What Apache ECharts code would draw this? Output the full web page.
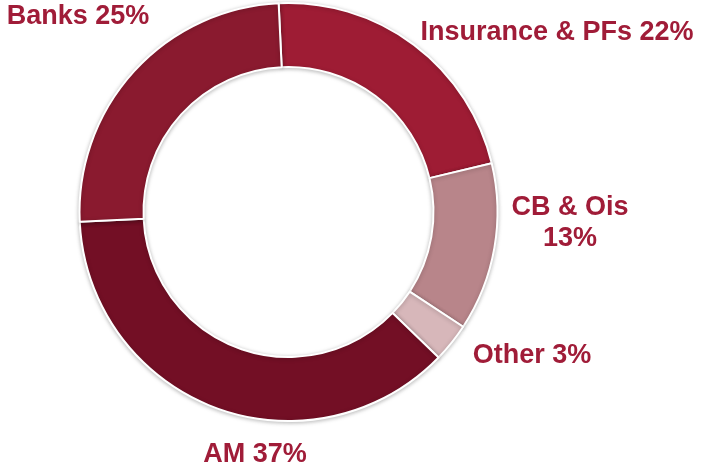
<!DOCTYPE html>
<html>
<head>
    <meta charset="UTF-8">
    <title>Investor breakdown</title>
    <script type="text/javascript" src="https://cdn.jsdelivr.net/npm/echarts@6/dist/echarts.min.js"></script>
</head>
<style type="text/css">
html, body { margin: 0; padding: 0; background: #fff; }
#chart { width: 703px; height: 467px; }
</style>
<body>
    <div id="chart"></div>

<script type="text/javascript">
    // 数据
    var names = ['Insurance & PFs', 'CB & Ois', 'Other', 'AM', 'Banks'];
    var values = [22, 13, 3, 37, 25];
    var colors = ['#9e1c34', '#b8858a', '#d7b7ba', '#730f25', '#8a1a2f'];

    // 标签位置
    var labelPos = [
        { x: 557, y: 33 },
        { x: 570, y: 223 },
        { x: 532, y: 356 },
        { x: 255, y: 455 },
        { x: 78, y: 17 }
    ];

    var myChart = echarts.init(document.getElementById('chart'));

    var pieData = [];
    for (var i = 0; i < names.length; i++) {
        pieData.push({ name: names[i], value: values[i], itemStyle: { color: colors[i] } });
    }

    var option = {
        animation: false,
        series: [{
            type: 'pie',
            center: [288.5, 212],
            radius: [145, 209],
            startAngle: 92.7,
            clockwise: true,
            avoidLabelOverlap: false,
            itemStyle: {
                borderColor: '#fff',
                borderWidth: 2,
                shadowBlur: 4,
                shadowColor: 'rgba(0,0,0,0.25)',
                shadowOffsetY: 1
            },
            label: {
                show: true,
                position: 'outside',
                color: '#a01c38',
                fontFamily: 'Liberation Sans',
                fontWeight: 'bold',
                fontSize: 27,
                lineHeight: 31,
                align: 'center',
                formatter: function (p) {
                    var sep = p.dataIndex === 1 ? '\n' : ' ';
                    return p.name + sep + p.value + '%';
                }
            },
            labelLine: { show: false },
            labelLayout: function (p) {
                var pos = labelPos[p.dataIndex];
                return { x: pos.x, y: pos.y, align: 'center', verticalAlign: 'middle' };
            },
            emphasis: { disabled: true },
            data: pieData
        }]
    };

    myChart.setOption(option);
</script>
</body>
</html>
